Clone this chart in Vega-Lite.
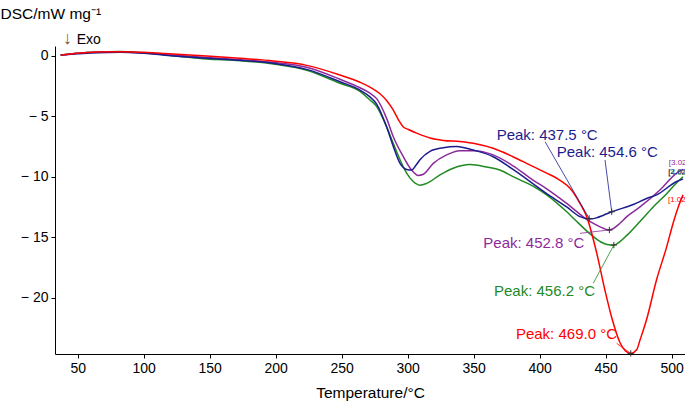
{
  "$schema": "https://vega.github.io/schema/vega-lite/v6.json",
  "width": 630,
  "height": 308,
  "autosize": {"type": "none"},
  "padding": {"left": 55, "top": 46, "right": 0, "bottom": 50},
  "background": "white",
  "config": {"view": {"stroke": null}, "font": "Liberation Sans"},
  "datasets": {
    "curves": [
      {"s":"green","T":37.1,"V":0.05},{"s":"green","T":50,"V":0.2},{"s":"green","T":65,"V":0.3},{"s":"green","T":82,"V":0.34},{"s":"green","T":100,"V":0.22},{"s":"green","T":122.4,"V":0.0},{"s":"green","T":147.7,"V":-0.27},{"s":"green","T":173,"V":-0.41},{"s":"green","T":198.2,"V":-0.69},{"s":"green","T":223.5,"V":-1.2},{"s":"green","T":248.7,"V":-2.28},{"s":"green","T":263.9,"V":-2.95},{"s":"green","T":271.4,"V":-3.66},{"s":"green","T":276.5,"V":-4.2},{"s":"green","T":284.1,"V":-5.9},{"s":"green","T":289.1,"V":-7.25},{"s":"green","T":294.2,"V":-8.6},{"s":"green","T":299.2,"V":-9.7},{"s":"green","T":304.2,"V":-10.4},{"s":"green","T":309.3,"V":-10.7},{"s":"green","T":314.4,"V":-10.55},{"s":"green","T":324.5,"V":-9.85},{"s":"green","T":334.5,"V":-9.3},{"s":"green","T":347.2,"V":-9.0},{"s":"green","T":359.8,"V":-9.2},{"s":"green","T":369.9,"V":-9.45},{"s":"green","T":379.8,"V":-10.0},{"s":"green","T":395.2,"V":-10.8},{"s":"green","T":405.3,"V":-11.5},{"s":"green","T":420.5,"V":-12.9},{"s":"green","T":430,"V":-13.9},{"s":"green","T":436.8,"V":-14.6},{"s":"green","T":445.7,"V":-15.35},{"s":"green","T":451,"V":-15.6},{"s":"green","T":456.2,"V":-15.65},{"s":"green","T":461,"V":-15.35},{"s":"green","T":466,"V":-14.85},{"s":"green","T":476,"V":-13.7},{"s":"green","T":486,"V":-12.5},{"s":"green","T":496.2,"V":-11.4},{"s":"green","T":503.8,"V":-10.5},{"s":"green","T":508.6,"V":-10.0},
      {"s":"purple","T":37.1,"V":0.05},{"s":"purple","T":50,"V":0.2},{"s":"purple","T":65,"V":0.28},{"s":"purple","T":82,"V":0.3},{"s":"purple","T":100,"V":0.22},{"s":"purple","T":122.4,"V":0.05},{"s":"purple","T":147.7,"V":-0.15},{"s":"purple","T":173,"V":-0.33},{"s":"purple","T":198.2,"V":-0.55},{"s":"purple","T":223.5,"V":-0.96},{"s":"purple","T":248.7,"V":-1.95},{"s":"purple","T":263.9,"V":-2.65},{"s":"purple","T":271.4,"V":-3.1},{"s":"purple","T":276.5,"V":-3.55},{"s":"purple","T":284.1,"V":-5.2},{"s":"purple","T":289.1,"V":-6.7},{"s":"purple","T":296.7,"V":-8.35},{"s":"purple","T":303,"V":-9.45},{"s":"purple","T":308,"V":-9.9},{"s":"purple","T":311.8,"V":-9.8},{"s":"purple","T":319.4,"V":-8.9},{"s":"purple","T":329.5,"V":-8.2},{"s":"purple","T":339.6,"V":-7.85},{"s":"purple","T":349.7,"V":-7.85},{"s":"purple","T":364.8,"V":-8.2},{"s":"purple","T":379.8,"V":-9.1},{"s":"purple","T":395.2,"V":-10.3},{"s":"purple","T":405.3,"V":-11.0},{"s":"purple","T":420.5,"V":-12.2},{"s":"purple","T":438,"V":-13.7},{"s":"purple","T":445,"V":-14.1},{"s":"purple","T":452.8,"V":-14.4},{"s":"purple","T":460.8,"V":-13.85},{"s":"purple","T":466,"V":-13.3},{"s":"purple","T":476,"V":-12.5},{"s":"purple","T":491.1,"V":-11.1},{"s":"purple","T":503.8,"V":-9.7},{"s":"purple","T":508.6,"V":-9.4},
      {"s":"blue","T":37.1,"V":0.05},{"s":"blue","T":50,"V":0.15},{"s":"blue","T":65,"V":0.25},{"s":"blue","T":82,"V":0.28},{"s":"blue","T":100,"V":0.2},{"s":"blue","T":122.4,"V":-0.02},{"s":"blue","T":147.7,"V":-0.22},{"s":"blue","T":173,"V":-0.38},{"s":"blue","T":198.2,"V":-0.63},{"s":"blue","T":223.5,"V":-1.13},{"s":"blue","T":248.7,"V":-2.15},{"s":"blue","T":263.9,"V":-2.85},{"s":"blue","T":271.4,"V":-3.4},{"s":"blue","T":276.5,"V":-4.0},{"s":"blue","T":284.1,"V":-5.9},{"s":"blue","T":289.1,"V":-7.5},{"s":"blue","T":294.2,"V":-8.9},{"s":"blue","T":299.2,"V":-9.4},{"s":"blue","T":303,"V":-9.45},{"s":"blue","T":306,"V":-9.1},{"s":"blue","T":309.3,"V":-8.6},{"s":"blue","T":316.9,"V":-7.9},{"s":"blue","T":327,"V":-7.6},{"s":"blue","T":337.1,"V":-7.5},{"s":"blue","T":349.7,"V":-7.8},{"s":"blue","T":364.8,"V":-8.35},{"s":"blue","T":379.8,"V":-9.4},{"s":"blue","T":405.3,"V":-11.4},{"s":"blue","T":420.5,"V":-12.5},{"s":"blue","T":430.5,"V":-13.3},{"s":"blue","T":437.5,"V":-13.5},{"s":"blue","T":443,"V":-13.4},{"s":"blue","T":448,"V":-13.2},{"s":"blue","T":454.6,"V":-12.9},{"s":"blue","T":470.9,"V":-12.3},{"s":"blue","T":481,"V":-11.8},{"s":"blue","T":488.6,"V":-11.5},{"s":"blue","T":503.8,"V":-10.4},{"s":"blue","T":508.6,"V":-10.2},
      {"s":"red","T":37.1,"V":0.05},{"s":"red","T":50,"V":0.2},{"s":"red","T":65,"V":0.3},{"s":"red","T":82,"V":0.33},{"s":"red","T":100,"V":0.28},{"s":"red","T":122.4,"V":0.14},{"s":"red","T":147.7,"V":-0.02},{"s":"red","T":173,"V":-0.22},{"s":"red","T":198.2,"V":-0.44},{"s":"red","T":223.5,"V":-0.8},{"s":"red","T":248.7,"V":-1.6},{"s":"red","T":263.9,"V":-2.2},{"s":"red","T":271.4,"V":-2.6},{"s":"red","T":279,"V":-3.15},{"s":"red","T":284,"V":-3.7},{"s":"red","T":289.1,"V":-4.5},{"s":"red","T":293,"V":-5.3},{"s":"red","T":296.7,"V":-5.9},{"s":"red","T":300.5,"V":-6.1},{"s":"red","T":306.8,"V":-6.4},{"s":"red","T":316.9,"V":-6.8},{"s":"red","T":327,"V":-7.0},{"s":"red","T":339.6,"V":-7.1},{"s":"red","T":352.3,"V":-7.3},{"s":"red","T":364.8,"V":-7.65},{"s":"red","T":379.8,"V":-8.35},{"s":"red","T":392,"V":-9.0},{"s":"red","T":405.3,"V":-9.7},{"s":"red","T":415.4,"V":-10.3},{"s":"red","T":423,"V":-10.96},{"s":"red","T":430.5,"V":-12.2},{"s":"red","T":435.6,"V":-13.3},{"s":"red","T":443.2,"V":-16.3},{"s":"red","T":449.5,"V":-19.4},{"s":"red","T":455,"V":-21.8},{"s":"red","T":460.8,"V":-23.7},{"s":"red","T":465,"V":-24.4},{"s":"red","T":469,"V":-24.6},{"s":"red","T":473.5,"V":-24.3},{"s":"red","T":476,"V":-23.5},{"s":"red","T":481,"V":-21.8},{"s":"red","T":488.6,"V":-18.5},{"s":"red","T":496.2,"V":-15.8},{"s":"red","T":501.2,"V":-13.8},{"s":"red","T":505,"V":-12.5},{"s":"red","T":508.6,"V":-11.5}
    ],
    "leaders": [
      {"s":"blue","T":404.1,"V":-7.11,"T2":437.5,"V2":-13.45},
      {"s":"blue","T":449.5,"V":-8.62,"T2":454.6,"V2":-12.9},
      {"s":"purple","T":430.5,"V":-14.68,"T2":452.8,"V2":-14.4},
      {"s":"green","T":440.6,"V":-18.8,"T2":456.2,"V2":-15.65},
      {"s":"red","T":458.3,"V":-23.77,"T2":469,"V2":-24.6}
    ],
    "labels": [
      {"s":"blue","T":367.4,"V":-6.55,"text":"Peak: 437.5 °C"},
      {"s":"blue","T":412.9,"V":-7.92,"text":"Peak: 454.6 °C"},
      {"s":"purple","T":357.3,"V":-15.44,"text":"Peak: 452.8 °C"},
      {"s":"green","T":365.4,"V":-19.45,"text":"Peak: 456.2 °C"},
      {"s":"red","T":382,"V":-23.0,"text":"Peak: 469.0 °C"}
    ],
    "crosses": [
      {"T":437.5,"V":-13.45},{"T":454.6,"V":-12.9},{"T":452.8,"V":-14.4},{"T":456.2,"V":-15.65},{"T":469,"V":-24.6}
    ],
    "tags": [
      {"s":"purple","T":497.8,"V":-8.85,"text":"[3.02]"},
      {"s":"green","T":497.4,"V":-9.7,"text":"[4.02]"},
      {"s":"blue","T":497.4,"V":-9.65,"text":"[2.02]"},
      {"s":"red","T":497.2,"V":-11.95,"text":"[1.02]"}
    ],
    "arrow": [{"T":38.8,"V":1.35,"text":"↓"}],
    "exo": [{"T":49.3,"V":1.3,"text":"Exo"}]
  },
  "layer": [
    {
      "data": {"name": "curves"},
      "mark": {"type": "line", "strokeWidth": 1.5, "clip": true, "interpolate": "monotone"},
      "encoding": {
        "x": {
          "field": "T", "type": "quantitative",
          "scale": {"domain": [32.8, 510.1], "nice": false, "zero": false},
          "axis": {
            "title": "Temperature/°C",
            "values": [50,75,100,125,150,175,200,225,250,275,300,325,350,375,400,425,450,475,500],
            "labelExpr": "datum.value % 50 === 0 ? datum.label : ''",
            "labelOverlap": false,
            "format": "d",
            "grid": false,
            "domainColor": "#000", "domainWidth": 1,
            "tickColor": "#000", "tickSize": 4,
            "labelColor": "#000", "labelFontSize": 14, "labelPadding": 3,
            "titleColor": "#000", "titleFontSize": 15.5, "titleFontWeight": "normal", "titlePadding": 10
          }
        },
        "y": {
          "field": "V", "type": "quantitative",
          "scale": {"domain": [-24.65, 0.8], "nice": false, "zero": false},
          "axis": {
            "title": "DSC/mW mg⁻¹",
            "titleAngle": 0, "titleAlign": "left", "titleBaseline": "middle",
            "titleX": -55, "titleY": -33,
            "values": [-20, -15, -10, -5, 0],
            "labelExpr": "datum.value < 0 ? '− ' + format(-datum.value, 'd') : '0'",
            "labelOverlap": false,
            "grid": false,
            "domainColor": "#000", "domainWidth": 1,
            "tickColor": "#000", "tickSize": 4,
            "labelColor": "#000", "labelFontSize": 14, "labelPadding": 3,
            "titleColor": "#000", "titleFontSize": 15.5, "titleFontWeight": "normal"
          }
        },
        "color": {
          "field": "s", "type": "nominal",
          "scale": {"domain": ["green","purple","blue","red"], "range": ["#1f8a1f","#8c2a9c","#1c1c8e","#ff0000"]},
          "legend": null
        }
      }
    },
    {
      "data": {"name": "leaders"},
      "mark": {"type": "rule", "strokeWidth": 0.8},
      "encoding": {
        "x": {"field": "T", "type": "quantitative"},
        "y": {"field": "V", "type": "quantitative"},
        "x2": {"field": "T2"},
        "y2": {"field": "V2"},
        "color": {"field": "s", "type": "nominal", "legend": null}
      }
    },
    {
      "data": {"name": "labels"},
      "mark": {"type": "text", "align": "left", "baseline": "middle", "fontSize": 15},
      "encoding": {
        "x": {"field": "T", "type": "quantitative"},
        "y": {"field": "V", "type": "quantitative"},
        "text": {"field": "text"},
        "color": {"field": "s", "type": "nominal", "legend": null}
      }
    },
    {
      "data": {"name": "crosses"},
      "mark": {"type": "point", "shape": "M-1,0H1M0,-1V1", "size": 40, "filled": false, "stroke": "#333", "strokeWidth": 1, "opacity": 1},
      "encoding": {
        "x": {"field": "T", "type": "quantitative"},
        "y": {"field": "V", "type": "quantitative"}
      }
    },
    {
      "data": {"name": "tags"},
      "mark": {"type": "text", "align": "left", "baseline": "middle", "fontSize": 8},
      "encoding": {
        "x": {"field": "T", "type": "quantitative"},
        "y": {"field": "V", "type": "quantitative"},
        "text": {"field": "text"},
        "color": {"field": "s", "type": "nominal", "legend": null}
      }
    },
    {
      "data": {"name": "arrow"},
      "mark": {"type": "text", "align": "left", "baseline": "middle", "clip": false, "fontSize": 18, "color": "#8b5a2b"},
      "encoding": {
        "x": {"field": "T", "type": "quantitative"},
        "y": {"field": "V", "type": "quantitative"},
        "text": {"field": "text"}
      }
    },
    {
      "data": {"name": "exo"},
      "mark": {"type": "text", "align": "left", "baseline": "middle", "clip": false, "fontSize": 14, "color": "#000"},
      "encoding": {
        "x": {"field": "T", "type": "quantitative"},
        "y": {"field": "V", "type": "quantitative"},
        "text": {"field": "text"}
      }
    }
  ]
}
